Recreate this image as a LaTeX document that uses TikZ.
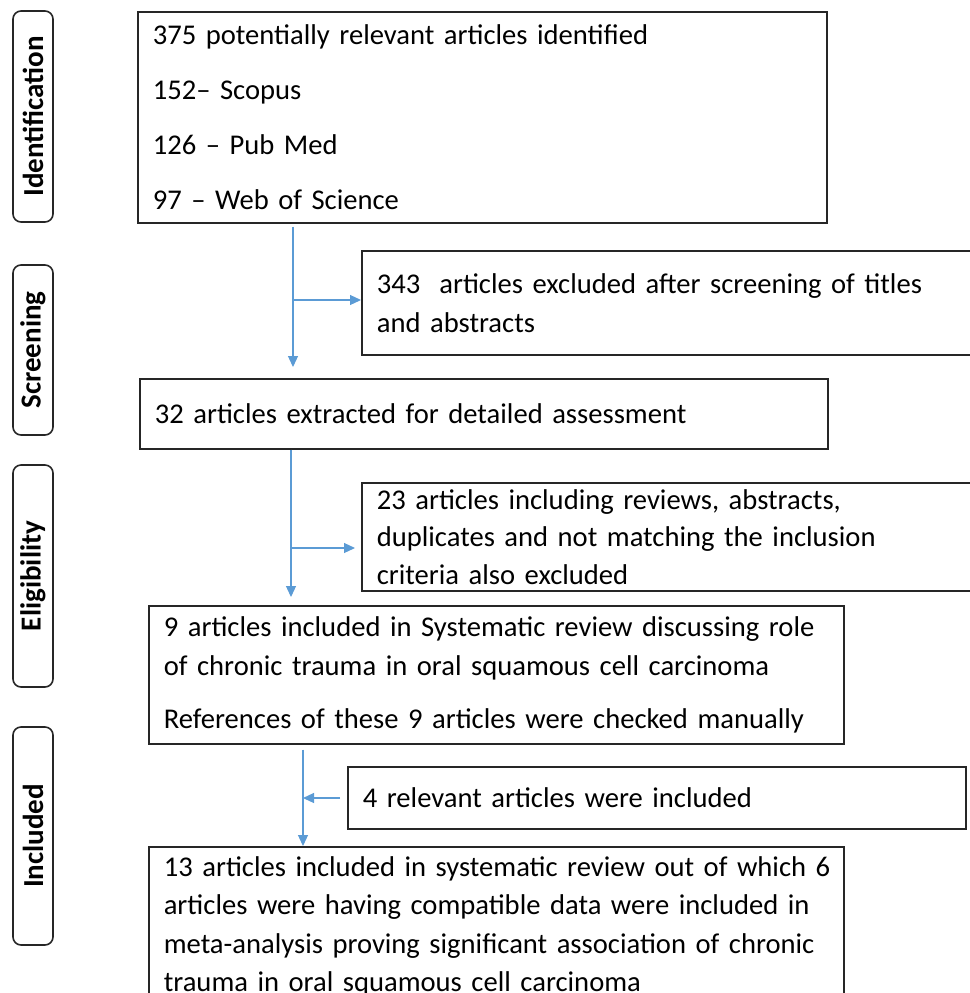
\documentclass[tikz,border=0pt]{standalone}
\usepackage{fontspec}
\setmainfont{Carlito}
\usepackage{tikz}
\usetikzlibrary{positioning}
\usetikzlibrary{arrows.meta}

\definecolor{flowblue}{HTML}{5B9BD5}

\begin{document}
\begin{tikzpicture}[x=0.5pt,y=-0.5pt,
        box/.style={draw=black!85, line width=0.8pt, anchor=north west, align=left,
            inner xsep=7.5pt, font=\fontsize{14.3}{19.5}\selectfont},
        stage/.style={draw=black!85, line width=0.8pt, rounded corners=4pt, rotate=90,
            minimum height=20pt, font=\bfseries\fontsize{14.5}{16}\selectfont},
        flow/.style={draw=flowblue, line width=0.6pt, -{Triangle[width=5pt,length=5.5pt]}}]
        \useasboundingbox (0,0) rectangle (970,993);
        \clip (0,0) rectangle (970,993);

        % stage labels
        \node[stage, minimum width=105.5pt] (sIdent) at (33,116.5) {Identification};
        \node[stage, minimum width=85pt] (sScreen) at (33,350) {Screening};
        \node[stage, minimum width=111pt] (sElig) at (33,576) {Eligibility};
        \node[stage, minimum width=109pt] (sIncl) at (33,836) {Included};

        % main boxes
        \node[box, minimum width=344.5pt, minimum height=105.5pt, text width=329.5pt,
            font=\fontsize{14.3}{27.5}\selectfont] (ident) at (137,11)
        {375 potentially relevant articles identified\\152-- Scopus\\126 -- Pub Med\\97 -- Web of Science};
        \node[box, minimum width=344pt, minimum height=35pt, text width=329pt] (scrn) at (139,378)
        {32 articles extracted for detailed assessment};
        \node[box, minimum width=347.5pt, minimum height=69pt, text width=332.5pt] (elig) at (148,605)
        {9 articles included in Systematic review discussing role\\of chronic trauma in oral squamous cell carcinoma\\[7pt]References of these 9 articles were checked manually};
        \node[box, minimum width=347.5pt, minimum height=79.5pt, text width=332.5pt,
            font=\fontsize{14.3}{19.25}\selectfont] (incl) at (148,846)
        {\mbox{13 articles included in systematic review out of which 6}\\articles were having compatible data were included in\\meta-analysis proving significant association of chronic\\trauma in oral squamous cell carcinoma};

        % side boxes
        \node[box, minimum width=309.5pt, minimum height=52pt, text width=294.5pt] (exA) at (361,250)
        {343~ articles excluded after screening of titles\\and abstracts};
        \node[box, minimum width=309.5pt, minimum height=53pt, text width=294.5pt,
            font=\fontsize{14.3}{18.75}\selectfont] (exB) at (361,482)
        {23 articles including reviews, abstracts,\\duplicates and not matching the inclusion\\criteria also excluded};
        \node[box, minimum width=309pt, minimum height=31pt, text width=294pt] (addn) at (347,766)
        {4 relevant articles were included};

        % arrows
        \coordinate (j1) at (293,300);
        \coordinate (j2) at (291,548);
        \coordinate (j3) at (303,798);
        \draw[flow, shorten <=1.5pt, shorten >=5.5pt] (ident.south -| j1) -- (scrn.north -| j1);
        \draw[flow] (j1) -- (j1 -| exA.west);
        \draw[flow, shorten >=4pt] (scrn.south -| j2) -- (elig.north -| j2);
        \draw[flow, shorten >=3pt] (j2) -- (j2 -| exB.west);
        \draw[flow, shorten <=2.5pt] (elig.south -| j3) -- (incl.north -| j3);
        \draw[flow, shorten <=3.5pt] (addn.west |- j3) -- (j3);
\end{tikzpicture}
\end{document}
